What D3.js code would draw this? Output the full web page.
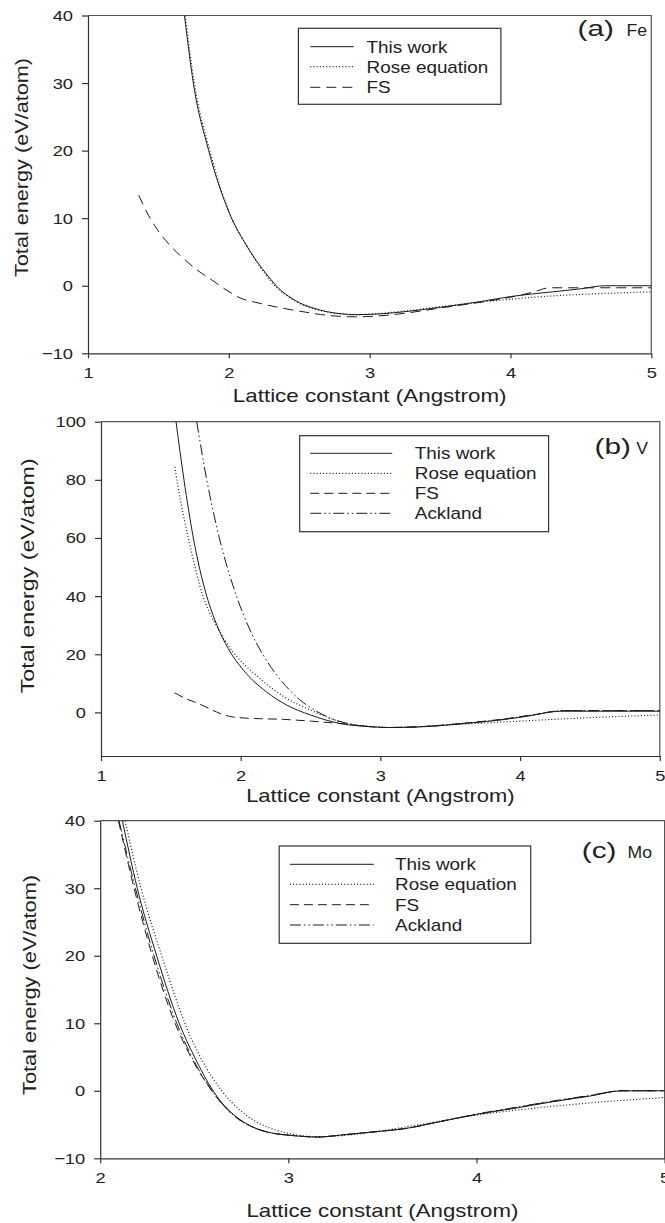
<!DOCTYPE html>
<html><head><meta charset="utf-8">
<script src="https://cdn.jsdelivr.net/npm/d3@7"></script>
<style>body{margin:0;background:#fff}svg{display:block}text{font-family:"Liberation Sans",Arial,Helvetica,sans-serif;fill:#222}</style>
</head><body>
<svg id="chart" width="665" height="1223"></svg>
<script>
// ---------------- DATA ----------------
const seriesNames = ["This work", "Rose equation", "FS", "Ackland"];
const xTitleText = "Lattice constant (Angstrom)";
const yTitleText = "Total energy (eV/atom)";

const feXTicks = [1, 2, 3, 4, 5];
const feYTicks = [-10, 0, 10, 20, 30, 40];
const vXTicks = [1, 2, 3, 4, 5];
const vYTicks = [0, 20, 40, 60, 80, 100];
const moXTicks = [2, 3, 4, 5];
const moYTicks = [-10, 0, 10, 20, 30, 40];

// (a) Fe
const feThisWork = [[1.685,40],[1.748,30],[1.857,20],[2.005,10.7],[2.13,5.8],[2.3,0.9],[2.35,-0.3],[2.4,-1.2],[2.45,-1.9],[2.5,-2.5],[2.6,-3.3],[2.7,-3.85],[2.8,-4.15],[2.9,-4.28],[3.0,-4.25],[3.2,-3.95],[3.5,-3.2],[3.8,-2.3],[4.0,-1.6],[4.3,-0.9],[4.5,-0.45],[4.67,0],[5.0,0]];
const feRose = [[1.69,40],[1.755,30],[1.865,20],[2.02,10],[2.14,5.5],[2.3,0.6],[2.35,-0.5],[2.4,-1.35],[2.45,-2.0],[2.5,-2.6],[2.6,-3.4],[2.7,-3.9],[2.8,-4.2],[2.9,-4.28],[3.0,-4.2],[3.2,-3.85],[3.5,-3.1],[3.8,-2.4],[4.0,-2.0],[4.3,-1.5],[4.6,-1.2],[5.0,-0.9]];
const feFS = [[1.36,13.4],[1.43,10.4],[1.51,7.8],[1.59,5.8],[1.68,4.0],[1.77,2.4],[1.87,1.0],[1.98,-0.6],[2.08,-1.8],[2.2,-2.5],[2.35,-3.2],[2.5,-3.75],[2.65,-4.25],[2.8,-4.55],[2.9,-4.6],[3.0,-4.55],[3.2,-4.2],[3.5,-3.3],[3.8,-2.4],[4.0,-1.7],[4.15,-1.0],[4.28,-0.3],[4.5,-0.3],[5.0,-0.3]];

// (b) V
const vThisWork = [[1.537,100],[1.594,80],[1.661,60],[1.757,40],[1.83,30],[1.91,22],[2.02,14.5],[2.186,7.0],[2.33,2.5],[2.5,-0.9],[2.71,-3.8],[2.95,-4.95],[3.05,-5.2],[3.2,-5.1],[3.38,-4.7],[3.6,-3.8],[3.86,-2.6],[4.0,-1.7],[4.1,-0.9],[4.21,0.1],[4.3,0.4],[5.0,0.4]];
const vRose = [[1.528,84.5],[1.55,78],[1.625,60],[1.73,40],[1.83,29.5],[1.95,20.5],[2.11,12.8],[2.305,5.5],[2.5,0.8],[2.66,-2.4],[2.85,-4.5],[3.05,-5.2],[3.3,-4.9],[3.5,-4.3],[4.0,-3.0],[4.5,-1.8],[5.0,-0.9]];
const vFS = [[1.528,6.7],[1.6,4.9],[1.709,2.8],[1.78,1.2],[1.852,-0.35],[1.947,-1.6],[2.1,-2.1],[2.305,-2.4],[2.5,-3.0],[2.66,-3.6],[2.8,-4.3],[2.95,-5.0],[3.05,-5.2],[3.2,-5.1],[3.38,-4.6],[3.6,-3.7],[3.86,-2.4],[4.0,-1.5],[4.1,-0.8],[4.25,0.4],[4.3,0.6],[5.0,0.6]];
const vAckland = [[1.685,100],[1.757,80],[1.847,60],[1.97,40],[2.07,28],[2.17,19],[2.28,11.5],[2.42,4.5],[2.62,-1.5],[2.78,-4.0],[2.95,-5.0],[3.05,-5.2],[3.2,-5.1],[3.38,-4.7],[3.6,-3.8],[3.86,-2.5],[4.0,-1.5],[4.1,-0.8],[4.25,0.4],[4.3,0.6],[5.0,0.6]];

// (c) Mo
const moThisWork = [[2.118,40],[2.197,30],[2.3,20],[2.42,10],[2.505,4.8],[2.6,0],[2.68,-2.8],[2.74,-4.2],[2.83,-5.6],[2.92,-6.3],[3.01,-6.6],[3.156,-6.85],[3.3,-6.5],[3.45,-6.1],[3.62,-5.6],[3.8,-4.6],[4.0,-3.5],[4.2,-2.6],[4.41,-1.6],[4.6,-0.8],[4.775,0],[5.0,0]];
const moRose = [[2.132,40],[2.217,30],[2.327,20],[2.45,10],[2.646,0],[2.74,-2.8],[2.83,-4.6],[2.92,-5.7],[3.0,-6.3],[3.15,-6.8],[3.3,-6.6],[3.5,-5.9],[3.7,-5.0],[4.0,-3.6],[4.3,-2.6],[4.6,-1.8],[5.0,-1.0]];
const moFS = [[2.097,40],[2.18,30],[2.277,20],[2.398,10],[2.49,4.6],[2.593,0],[2.68,-2.9],[2.74,-4.3],[2.83,-5.6],[2.92,-6.3],[3.01,-6.6],[3.156,-6.85],[3.3,-6.5],[3.45,-6.1],[3.62,-5.6],[3.8,-4.6],[4.0,-3.5],[4.2,-2.55],[4.41,-1.55],[4.6,-0.75],[4.77,0],[5.0,0]];
const moAckland = [[2.10,40],[2.187,30],[2.286,20],[2.407,10],[2.495,4.6],[2.595,0],[2.68,-2.9],[2.74,-4.3],[2.83,-5.6],[2.92,-6.3],[3.01,-6.6],[3.156,-6.85],[3.3,-6.5],[3.45,-6.1],[3.62,-5.6],[3.8,-4.6],[4.0,-3.45],[4.2,-2.5],[4.41,-1.5],[4.6,-0.7],[4.77,0],[5.0,0]];

// ---------------- LAYOUT ----------------
const panels = [
  {tag:"(a)", elem:"Fe", series:[feThisWork, feRose, feFS], xDomain:[1,5], yDomain:[-10,40], xTicks:feXTicks, yTicks:feYTicks,
   box:{l:88,r:651.3,t:15.5,b:353.3}, fsDash:"10,6",
   legend:{x0:298.4,x1:500.9,y0:28.3,y1:104.3,rows:[46.7,66.7,87.3],lx0:310.3,lx1:353.8,tx:366.6},
   label:{x:577.6,xe:647,y:36}, yTitle:{x:28.3,cy:167.5,len:219}, xTitle:{y:401.7,len:273.7}},
  {tag:"(b)", elem:"V", series:[vThisWork, vRose, vFS, vAckland], xDomain:[1,5], yDomain:[-15,100], xTicks:vXTicks, yTicks:vYTicks,
   box:{l:101,r:659.8,t:421.7,b:756}, fsDash:"9,5",
   legend:{x0:299.7,x1:548.6,y0:435.7,y1:531.7,rows:[453.3,473.3,493.3,513.3],lx0:310.3,lx1:392.2,tx:414.8},
   label:{x:594.6,xe:648,y:454}, yTitle:{x:34.1,cy:575.8,len:235}, xTitle:{y:802,len:268.5}},
  {tag:"(c)", elem:"Mo", series:[moThisWork, moRose, moFS, moAckland], xDomain:[2,5], yDomain:[-10,40], xTicks:moXTicks, yTicks:moYTicks,
   box:{l:100.2,r:664.6,t:820.7,b:1158.3}, fsDash:"9,5",
   legend:{x0:279.2,x1:530.7,y0:846,y1:943.3,rows:[864.3,884.3,904.7,925],lx0:289.9,lx1:373.8,tx:395.1},
   label:{x:581.8,xe:652,y:858}, yTitle:{x:36,cy:985,len:220}, xTitle:{y:1216.7,len:272}}
];

const svg = d3.select("#chart");
const INK = "#1c1c1c";

function stretch(sel, f) {
  sel.each(function() {
    const L = this.getComputedTextLength();
    d3.select(this).attr("textLength", L * f).attr("lengthAdjust", "spacingAndGlyphs");
  });
}

panels.forEach((p, pi) => {
  const g = svg.append("g");
  const x = d3.scaleLinear().domain(p.xDomain).range([p.box.l, p.box.r]);
  const y = d3.scaleLinear().domain(p.yDomain).range([p.box.b, p.box.t]);
  const dashes = ["none", "1,2.2", p.fsDash, "11,3,1.5,3,1.5,3"];

  const clipId = "clip" + pi;
  g.append("clipPath").attr("id", clipId).append("rect")
    .attr("x", p.box.l).attr("y", p.box.t).attr("width", p.box.r - p.box.l).attr("height", p.box.b - p.box.t);

  // frame top/right
  g.append("path").attr("d", `M${p.box.l},${p.box.t}H${p.box.r}V${p.box.b}`)
    .attr("fill", "none").attr("stroke", "#555").attr("stroke-width", 1.2);

  // curves
  const line = d3.line().x(d => x(d[0])).y(d => y(d[1])).curve(d3.curveMonotoneX);
  const cg = g.append("g").attr("clip-path", `url(#${clipId})`);
  p.series.forEach((s, i) => {
    cg.append("path").datum(s).attr("d", line).attr("fill", "none")
      .attr("stroke", INK).attr("stroke-width", i === 1 ? 1.2 : 1)
      .attr("stroke-dasharray", dashes[i]);
  });

  // axes
  const xa = g.append("g").attr("transform", `translate(0,${p.box.b})`)
    .call(d3.axisBottom(x).tickValues(p.xTicks).tickFormat(d3.format("d")).tickSize(5).tickSizeOuter(0).tickPadding(9));
  const ya = g.append("g").attr("transform", `translate(${p.box.l},0)`)
    .call(d3.axisLeft(y).tickValues(p.yTicks).tickFormat(d3.format("d")).tickSize(6).tickSizeOuter(0).tickPadding(9));
  [xa, ya].forEach(a => {
    a.select(".domain").attr("stroke", "#333").attr("stroke-width", 1.2);
    a.selectAll(".tick line").attr("stroke", "#333").attr("stroke-width", 1.2);
    a.selectAll("text").attr("font-size", 15.5).attr("fill", "#222")
      .attr("font-family", '"Liberation Sans",Arial,sans-serif');
    stretch(a.selectAll("text"), 1.18);
  });

  // axis titles
  const xt = g.append("text").attr("x", (p.box.l + p.box.r) / 2).attr("y", p.xTitle.y)
    .attr("text-anchor", "middle").attr("font-size", 18.5).text(xTitleText);
  xt.attr("textLength", p.xTitle.len).attr("lengthAdjust", "spacingAndGlyphs");
  const yt = g.append("text").attr("transform", `translate(${p.yTitle.x},${p.yTitle.cy}) rotate(-90)`)
    .attr("text-anchor", "middle").attr("font-size", 18.5).text(yTitleText);
  yt.attr("textLength", p.yTitle.len).attr("lengthAdjust", "spacingAndGlyphs");

  // legend
  const L = p.legend;
  g.append("rect").attr("x", L.x0).attr("y", L.y0).attr("width", L.x1 - L.x0).attr("height", L.y1 - L.y0)
    .attr("fill", "#fff").attr("stroke", "#333").attr("stroke-width", 1.2);
  p.series.forEach((s, i) => {
    g.append("line").attr("x1", L.lx0).attr("x2", L.lx1).attr("y1", L.rows[i]).attr("y2", L.rows[i])
      .attr("stroke", INK).attr("stroke-width", i === 1 ? 1.2 : 1).attr("stroke-dasharray", dashes[i]);
    const t = g.append("text").attr("x", L.tx).attr("y", L.rows[i] + 6).attr("font-size", 17).text(seriesNames[i]);
    stretch(t, 1.11);
  });

  // panel label
  const t1 = g.append("text").attr("x", p.label.x).attr("y", p.label.y).attr("font-size", 22).text(p.tag);
  stretch(t1, 1.35);
  const t2 = g.append("text").attr("x", p.label.xe).attr("y", p.label.y).attr("text-anchor", "end").attr("font-size", 16).text(p.elem);
  stretch(t2, 1.1);
});
</script>
</body></html>
